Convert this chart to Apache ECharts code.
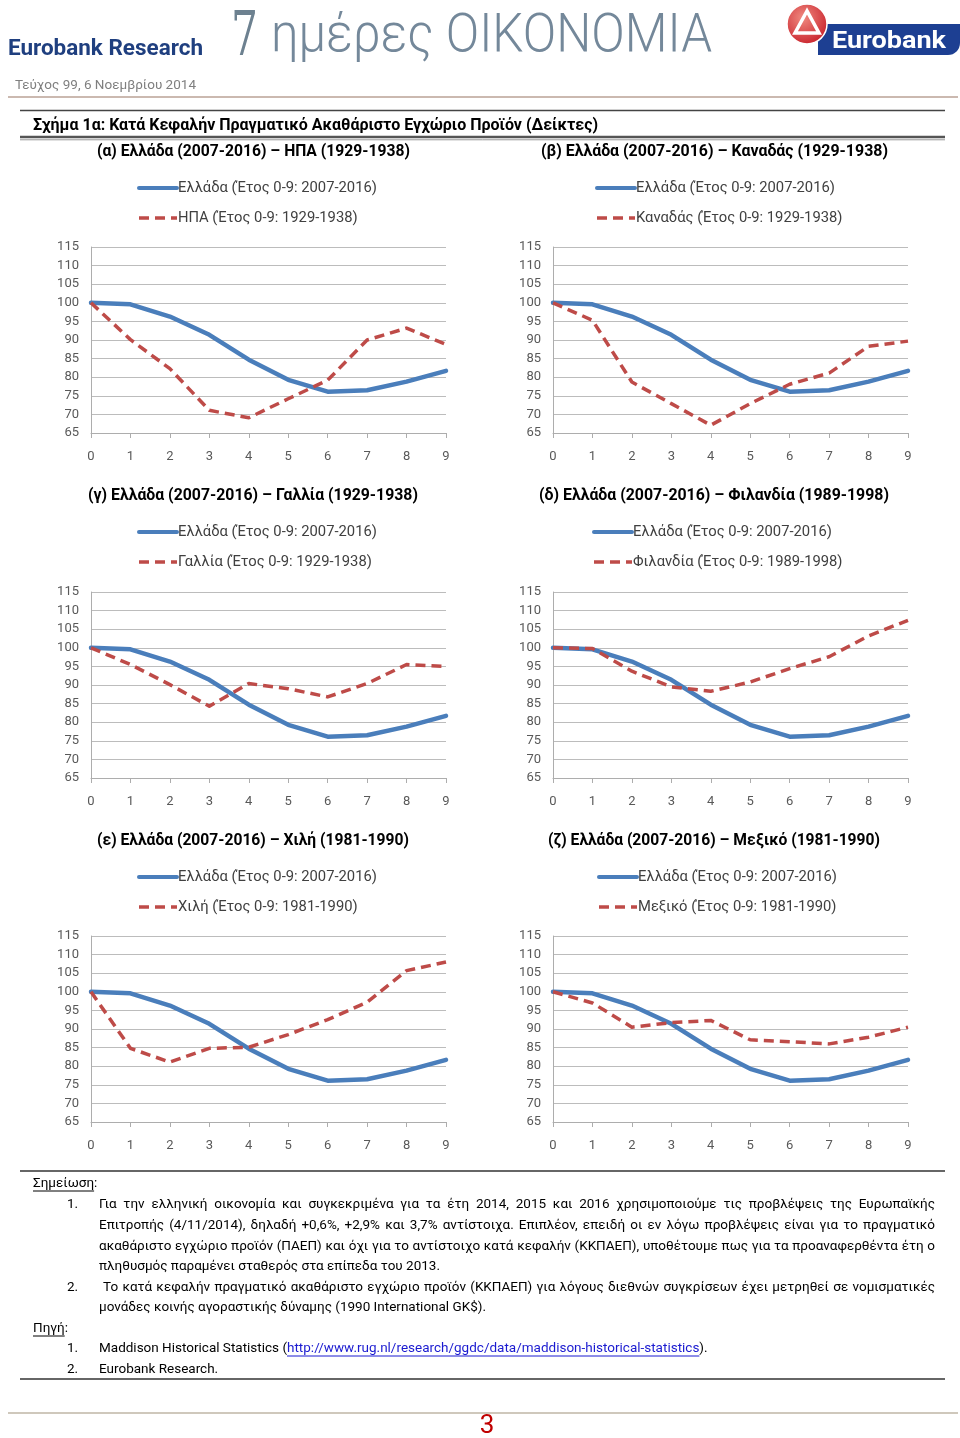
<!DOCTYPE html>
<html><head><meta charset="utf-8">
<script src="https://cdn.jsdelivr.net/npm/echarts@6/dist/echarts.min.js"></script>
<style>html,body{margin:0;padding:0;background:#fff}#c{width:960px;height:1438px}</style>
</head><body><div id="c"></div><script>
// ---------------- DATA ----------------
const years = ['0','1','2','3','4','5','6','7','8','9'];
const greece  = [100, 99.6, 96.3, 91.4, 84.7, 79.3, 76.1, 76.5, 78.8, 81.7];
const usa     = [100, 90.1, 82.3, 71.1, 69.1, 74.2, 79.2, 90.0, 93.2, 88.8];
const canada  = [100, 95.3, 78.7, 72.9, 67.1, 72.9, 78.1, 81.1, 88.3, 89.7];
const france  = [100, 95.5, 90.1, 84.3, 90.4, 89.0, 86.8, 90.4, 95.5, 95.0];
const finland = [100, 99.8, 93.7, 89.5, 88.3, 90.8, 94.4, 97.6, 103.2, 107.4];
const chile   = [100, 84.8, 81.1, 84.8, 85.1, 88.5, 92.5, 97.2, 105.7, 108.0];
const mexico  = [100, 97.0, 90.5, 91.7, 92.3, 87.1, 86.6, 86.0, 87.8, 90.5];
const yMin = 65, yMax = 115, yStep = 5;

const greeceName = 'Ελλάδα (Έτος 0-9: 2007-2016)';
const panelTitles = [
  '(α) Ελλάδα (2007-2016) – ΗΠΑ (1929-1938)',
  '(β) Ελλάδα (2007-2016) – Καναδάς (1929-1938)',
  '(γ) Ελλάδα (2007-2016) – Γαλλία (1929-1938)',
  '(δ) Ελλάδα (2007-2016) – Φιλανδία (1989-1998)',
  '(ε) Ελλάδα (2007-2016) – Χιλή (1981-1990)',
  '(ζ) Ελλάδα (2007-2016) – Μεξικό (1981-1990)'
];
const otherNames = [
  'ΗΠΑ (Έτος 0-9: 1929-1938)',
  'Καναδάς (Έτος 0-9: 1929-1938)',
  'Γαλλία (Έτος 0-9: 1929-1938)',
  'Φιλανδία (Έτος 0-9: 1989-1998)',
  'Χιλή (Έτος 0-9: 1981-1990)',
  'Μεξικό (Έτος 0-9: 1981-1990)'
];
const otherData = [usa, canada, france, finland, chile, mexico];

// ---------------- LAYOUT ----------------
const gridPos = [[91,247],[553,247],[91,592],[553,592],[91,936],[553,936]];
const gridW = 355, gridH = 186;
const titlePos = [[97,410,150],[541,888,150],[88,418,494],[539,889,494],[97,409,839],[548,880,839]];
const legendPos = [[137,187],[595,187],[137,531],[592,531],[137,876],[597,876]];
const BLUE = '#4a7ebb', RED = '#be4b48';
const F = 'Roboto, "Noto Sans", "DejaVu Sans", sans-serif';
const DY = 1.5; // baseline correction for graphic texts

const mctx = document.createElement('canvas').getContext('2d');
function tw(s, font){ mctx.font = font; return mctx.measureText(s).width; }
function txt(s, x, y, font, fill, align, sx){
  return {type:'text', x:x, y:y + DY, scaleX: sx||1, silent:true,
    style:{text:s, font:font, fill:fill, textAlign:align||'left', textVerticalAlign:'middle'}};
}
function fit(s, x0, x1, y, font, fill){
  const sx = (x1-x0)/tw(s,font);
  return txt(s, x0, y, font, fill, 'left', sx);
}
function line(x1,y1,x2,y2,stroke,w){
  return {type:'line', silent:true, shape:{x1:x1,y1:y1,x2:x2,y2:y2}, style:{stroke:stroke, lineWidth:w}};
}
const els = [];
function justified(s, x0, x1, y, font, fill){
  const words = s.split(' ');
  const ws = words.map(w=>tw(w,font));
  const tot = ws.reduce((a,b)=>a+b,0);
  const gap = (x1-x0-tot)/(words.length-1);
  let x = x0;
  words.forEach((w,i)=>{ els.push(txt(w,x,y,font,fill,'left')); x += ws[i]+gap; });
}

// ---------------- HEADER ----------------
els.push(fit('Eurobank Research', 8, 203, 48, 'bold 22px ' + F, '#1f3f7f'));
els.push(fit('7', 231, 258, 37, '62px "DejaVu Serif", serif', '#6d8190'));
els.push(fit('ημέρες ΟΙΚΟΝΟΜΙΑ', 271, 712, 36, '300 54px ' + F, '#74889a'));
els.push(fit('Τεύχος 99, 6 Νοεμβρίου 2014', 15, 196, 84, '13px ' + F, '#7f7f7f'));
els.push(line(8, 97, 958, 97, '#cbb9b0', 2));
// logo
els.push({type:'rect', silent:true, shape:{x:818, y:24, width:142, height:31, r:[0,0,12,0]}, style:{fill:'#1d3f92'}});
els.push({type:'circle', silent:true, shape:{cx:807, cy:24, r:20}, style:{fill:{type:'radial', x:0.4, y:0.35, r:0.7, colorStops:[{offset:0,color:'#f08a80'},{offset:1,color:'#c8202a'}]}, stroke:'#ffffff', lineWidth:1.5}});
els.push({type:'polygon', silent:true, shape:{points:[[807,11],[795,33],[819,33]]}, style:{fill:'none', stroke:'#ffffff', lineWidth:3.5}});
els.push(fit('Eurobank', 832, 946, 40, 'bold 24px ' + F, '#ffffff'));

// ---------------- FIGURE TITLE ----------------
els.push(line(20, 110.5, 945, 110.5, '#444', 1.5));
els.push(fit('Σχήμα 1α: Κατά Κεφαλήν Πραγματικό Ακαθάριστο Εγχώριο Προϊόν (Δείκτες)', 33, 598, 124, 'bold 16px ' + F, '#000'));
els.push(line(20, 137, 945, 137, '#555', 2.5));
els.push(line(20, 139.8, 945, 139.8, '#999', 1));

panelTitles.forEach((t,i)=>{
  const p = titlePos[i];
  els.push(fit(t, p[0], p[1], p[2], 'bold 16px ' + F, '#000'));
});

// ---------------- NOTES ----------------
const BF = '13.5px ' + F;
els.push(line(20, 1171, 945, 1171, '#333', 1.5));
els.push(txt('Σημείωση:', 33, 1182, BF, '#000'));
els.push(line(33, 1191, 33 + tw('Σημείωση', BF), 1191, '#000', 1));
els.push(txt('1.', 67, 1203, BF, '#000'));
justified('Για την ελληνική οικονομία και συγκεκριμένα για τα έτη 2014, 2015 και 2016 χρησιμοποιούμε τις προβλέψεις της Ευρωπαϊκής', 99, 935, 1203, BF, '#000');
justified('Επιτροπής (4/11/2014), δηλαδή +0,6%, +2,9% και 3,7% αντίστοιχα. Επιπλέον, επειδή οι εν λόγω προβλέψεις είναι για το πραγματικό', 99, 935, 1224, BF, '#000');
justified('ακαθάριστο εγχώριο προϊόν (ΠΑΕΠ) και όχι για το αντίστοιχο κατά κεφαλήν (ΚΚΠΑΕΠ), υποθέτουμε πως για τα προαναφερθέντα έτη ο', 99, 935, 1245, BF, '#000');
els.push(txt('πληθυσμός παραμένει σταθερός στα επίπεδα του 2013.', 99, 1265, BF, '#000'));
els.push(txt('2.', 67, 1286, BF, '#000'));
justified('Το κατά κεφαλήν πραγματικό ακαθάριστο εγχώριο προϊόν (ΚΚΠΑΕΠ) για λόγους διεθνών συγκρίσεων έχει μετρηθεί σε νομισματικές', 103, 935, 1286, BF, '#000');
els.push(txt('μονάδες κοινής αγοραστικής δύναμης (1990 International GK$).', 99, 1306, BF, '#000'));
els.push(txt('Πηγή:', 33, 1327, BF, '#000'));
els.push(line(33, 1336, 33 + tw('Πηγή', BF), 1336, '#000', 1));
els.push(txt('1.', 67, 1347, BF, '#000'));
const s1 = 'Maddison Historical Statistics (';
const link = 'http://www.rug.nl/research/ggdc/data/maddison-historical-statistics';
const lx = 99 + tw(s1, BF);
els.push(txt(s1, 99, 1347, BF, '#000'));
els.push(txt(link, lx, 1347, BF, '#1a1ad0'));
els.push(line(lx, 1356, lx + tw(link, BF), 1356, '#1a1ad0', 1));
els.push(txt(').', lx + tw(link, BF), 1347, BF, '#000'));
els.push(txt('2.', 67, 1368, BF, '#000'));
els.push(txt('Eurobank Research.', 99, 1368, BF, '#000'));
els.push(line(20, 1379, 945, 1379, '#333', 1.5));
els.push(line(8, 1413, 958, 1413, '#cfc8bc', 2));
els.push(txt('3', 487, 1425, '26px ' + F, '#c00000', 'center'));

// ---------------- CHARTS ----------------
const grids = [], xAxes = [], yAxes = [], series = [], legends = [];
const legFont = 15;
const legFs = legFont * 199 / tw(greeceName, legFont + 'px ' + F);
gridPos.forEach((g,i)=>{
  grids.push({left:g[0], top:g[1], width:gridW, height:gridH});
  xAxes.push({type:'category', gridIndex:i, data:years, boundaryGap:false,
    axisLine:{show:true, lineStyle:{color:'#adadad', width:1}},
    axisTick:{show:true, length:5, lineStyle:{color:'#adadad'}},
    axisLabel:{margin:17, color:'#595959', fontSize:13, fontFamily:F},
    splitLine:{show:false}});
  yAxes.push({type:'value', gridIndex:i, min:yMin, max:yMax, interval:yStep,
    axisLine:{show:true, lineStyle:{color:'#adadad', width:1}},
    axisTick:{show:false},
    axisLabel:{margin:12, color:'#595959', fontSize:13, fontFamily:F},
    splitLine:{show:true, lineStyle:{color:'#bcbcbc', width:1}}});
  series.push({type:'line', name:greeceName, xAxisIndex:i, yAxisIndex:i, data:greece,
    symbol:'none', silent:true, lineStyle:{color:BLUE, width:4.5, cap:'round', join:'round'}, itemStyle:{color:BLUE}});
  series.push({type:'line', name:otherNames[i], xAxisIndex:i, yAxisIndex:i, data:otherData[i],
    symbol:'none', silent:true, lineStyle:{color:RED, width:3.5, type:[10,6], join:'round'}, itemStyle:{color:RED}});
  const lp = legendPos[i];
  legends.push({orient:'vertical', left:lp[0], top:lp[1]-8, padding:0, itemGap:12,
    itemWidth:38, itemHeight:14, selectedMode:false,
    itemStyle:{opacity:0},
    textStyle:{fontSize:legFs, color:'#404040', fontFamily:F, lineHeight:18, padding:[0,0,0,-4]},
    data:[{name:greeceName, lineStyle:{width:4}, itemStyle:{opacity:0}}, {name:otherNames[i], lineStyle:{width:3.5}, itemStyle:{opacity:0}}]});
});

const chart = echarts.init(document.getElementById('c'), null, {renderer:'canvas'});
chart.setOption({
  animation:false,
  backgroundColor:'#ffffff',
  grid:grids, xAxis:xAxes, yAxis:yAxes, series:series, legend:legends,
  graphic:{elements:els}
});
</script></body></html>
